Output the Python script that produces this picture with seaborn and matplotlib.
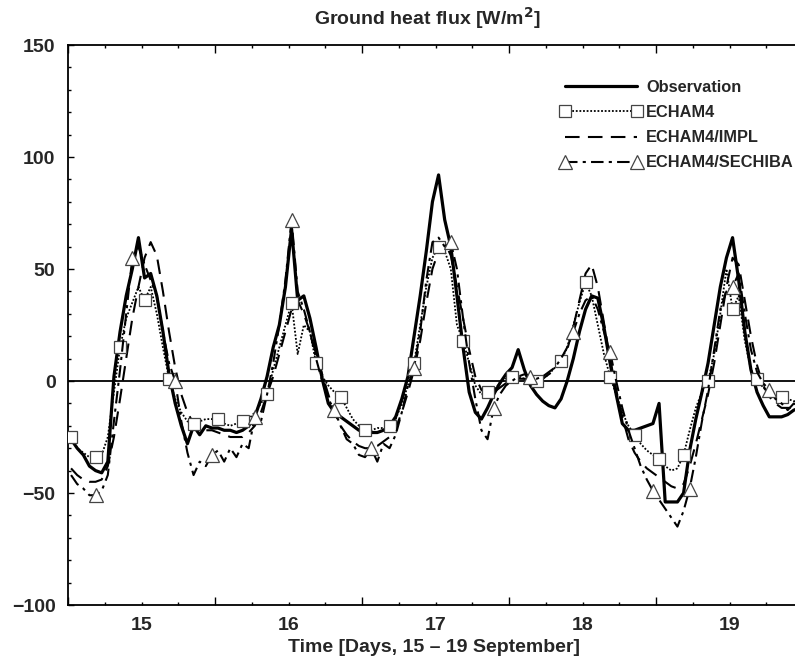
import numpy as np
import pandas as pd
import matplotlib
matplotlib.use("Agg")
import matplotlib.pyplot as plt
from matplotlib.lines import Line2D
from matplotlib.ticker import MultipleLocator
import seaborn as sns

# Hourly samples, 14.5 - 19.5 September (day of month, centred on the half hour)
hours = np.arange(120)
time_days = 14.5 + (hours + 0.5) / 24.0

observation = [
    -26, -30, -33, -38, -40, -41, -36, 2, 22, 38, 50, 64, 46, 48, 38, 22, 3, -10, -20, -28, -20, -24, -20, -21,
    -21, -22, -22, -23, -22, -20, -16, -8, 2, 15, 25, 42, 68, 36, 38, 28, 15, 1, -10, -14, -16, -18, -20, -22,
    -22, -23, -23, -22, -20, -16, -8, 2, 20, 38, 58, 80, 92, 72, 60, 38, 15, -5, -14, -17, -12, -6, -1, 3,
    6, 14, 5, -2, -6, -9, -11, -12, -8, 0, 10, 22, 32, 38, 37, 24, 8, -6, -19, -22, -22, -21, -20, -19,
    -10, -54, -54, -54, -50, -31, -17, -5, 8, 25, 42, 55, 64, 45, 22, 5, -5, -11, -16, -16, -16, -15, -13, -12,
]
echam4 = [
    -25, -30, -32, -34, -34, -33, -25, -5, 15, 28, 35, 42, 36, 42, 30, 15, 1, -8, -14, -18, -19, -18, -17, -17,
    -17, -19, -20, -19, -18, -17, -14, -10, -6, 5, 15, 25, 35, 12, 25, 22, 8, 2, -2, -5, -7, -12, -17, -20,
    -22, -22, -21, -21, -20, -17, -10, -2, 8, 25, 42, 55, 60, 58, 50, 25, 18, 8, -2, -6, -5, -4, -1, 1,
    2, 2, 1, 0, 0, 1, 3, 6, 9, 15, 25, 35, 44, 38, 25, 12, 2, -6, -14, -20, -24, -28, -31, -33,
    -35, -38, -40, -39, -33, -22, -12, -5, 0, 12, 30, 50, 32, 38, 18, 5, 1, -3, -5, -6, -7, -8, -9, -9,
]
echam4_impl = [
    -39, -42, -44, -45, -45, -44, -38, -25, -8, 10, 28, 42, 55, 62, 56, 40, 22, 6, -6, -14, -19, -21, -22, -22,
    -23, -24, -25, -25, -25, -23, -20, -14, -6, 2, 12, 22, 32, 36, 30, 22, 12, 3, -6, -14, -20, -24, -27, -29,
    -30, -30, -29, -27, -25, -21, -14, -5, 5, 18, 35, 50, 58, 62, 56, 42, 28, 14, 2, -4, -6, -5, -3, -1,
    0, 1, 1, 0, 0, 1, 3, 5, 8, 14, 24, 36, 48, 52, 42, 26, 10, -4, -16, -26, -32, -36, -39, -41,
    -43, -45, -47, -48, -46, -38, -28, -17, -6, 8, 25, 42, 55, 52, 36, 20, 7, -2, -7, -10, -12, -12, -12, -11,
]
echam4_sechiba = [
    -42, -46, -48, -51, -51, -49, -42, -18, 5, 30, 55, 60, 52, 45, 38, 22, 8, 0, -18, -32, -42, -36, -38, -33,
    -31, -36, -30, -34, -28, -30, -16, -18, -6, 8, 25, 45, 72, 40, 32, 22, 10, 0, -8, -13, -20, -26, -28, -33,
    -34, -30, -36, -28, -30, -24, -14, -2, 6, 22, 45, 62, 64, 60, 62, 50, 28, 8, -8, -22, -26, -12, -6, -2,
    0, 2, 3, 2, 1, 2, 4, 6, 10, 15, 22, 30, 36, 38, 32, 22, 13, 0, -12, -22, -30, -38, -44, -49,
    -53, -57, -61, -65, -58, -48, -34, -18, -4, 14, 32, 40, 42, 48, 30, 14, 4, -1, -4, -8, -10, -13, -10, -12,
]

series_names = ["Observation", "ECHAM4", "ECHAM4/IMPL", "ECHAM4/SECHIBA"]
day_ticks = [15, 16, 17, 18, 19]

df = pd.DataFrame({
    "time": time_days,
    "Observation": observation,
    "ECHAM4": echam4,
    "ECHAM4/IMPL": echam4_impl,
    "ECHAM4/SECHIBA": echam4_sechiba,
})

sns.set_theme(style="ticks")
plt.rcParams["font.family"] = ["Liberation Sans", "DejaVu Sans"]
plt.rcParams["font.weight"] = "bold"

fig = plt.figure(figsize=(7.95, 6.62), dpi=100)
ax = fig.add_axes([68 / 795, 1 - 605 / 662, (800 - 68) / 795, 560 / 662])

# square markers every 4 h, triangle markers every 6.5 h
square_every = (0, 4)
tri_every = [int(round(3.6 + 6.52 * i)) for i in range(19) if round(3.6 + 6.52 * i) < len(hours)]

styles = {
    "Observation": dict(color="black", lw=2.3, ls="-", zorder=3),
    "ECHAM4/IMPL": dict(color="black", lw=1.5, ls=(0, (7, 4)), zorder=3),
    "ECHAM4": dict(color="black", lw=1.3, ls=(0, (1, 1)), zorder=4,
                   marker="s", markersize=9, markevery=square_every,
                   markerfacecolor="white", markeredgecolor="#444444", markeredgewidth=0.9),
    "ECHAM4/SECHIBA": dict(color="black", lw=1.5, ls=(0, (6, 2.5, 1.5, 2.5)), zorder=4,
                           marker="^", markersize=10, markevery=tri_every,
                           markerfacecolor="white", markeredgecolor="#444444", markeredgewidth=0.9),
}

for name in ["Observation", "ECHAM4/IMPL", "ECHAM4", "ECHAM4/SECHIBA"]:
    sns.lineplot(data=df, x="time", y=name, ax=ax, legend=False, **styles[name])

ax.axhline(0, color="black", lw=1.3, zorder=2)

ax.set_xlim(14.5, 14.5 + 732 / 147)
ax.set_ylim(-100, 150)

ax.set_xticks(day_ticks)
ax.set_xticklabels([str(d) for d in day_ticks])
ax.xaxis.set_minor_locator(MultipleLocator(0.25))
ax.yaxis.set_major_locator(MultipleLocator(50))
ax.yaxis.set_minor_locator(MultipleLocator(10))
ax.tick_params(which="both", direction="in", top=True, right=False, width=1.0, color="black")
ax.tick_params(which="major", axis="x", length=2.5, pad=9, labelsize=14)
ax.tick_params(which="minor", axis="x", length=2.5)
ax.tick_params(which="major", axis="y", length=4, pad=9, labelsize=14)
ax.tick_params(which="minor", axis="y", length=2.5)
for lab in ax.get_xticklabels() + ax.get_yticklabels():
    lab.set_fontweight("bold")

# longer ticks at midday
fig.canvas.draw()
for tk in ax.xaxis.get_minor_ticks():
    loc = tk.get_loc()
    if loc is not None and abs((loc % 1) - 0.5) < 1e-6:
        tk.tick1line.set_markersize(5.5)
        tk.tick2line.set_markersize(5.5)

for sp in ax.spines.values():
    sp.set_linewidth(1.3)
    sp.set_color("black")

ax.set_xlabel("Time [Days, 15 \u2013 19 September]", fontsize=14, fontweight="bold", labelpad=3)
ax.set_ylabel("")
fig.text(0.537, 1 - 18 / 662, "Ground heat flux [W/m$^\\mathbf{2}$]", ha="center", va="center",
         fontsize=14, fontweight="bold")

handles = [
    Line2D([], [], color="black", lw=2.3, ls="-"),
    Line2D([], [], color="black", lw=1.3, ls=(0, (1, 1)), marker="s", markersize=9,
           markerfacecolor="white", markeredgecolor="#444444", markeredgewidth=0.9),
    Line2D([], [], color="black", lw=1.5, ls=(0, (7, 4))),
    Line2D([], [], color="black", lw=1.5, ls=(0, (6, 2.5, 1.5, 2.5)), marker="^", markersize=10,
           markerfacecolor="white", markeredgecolor="#444444", markeredgewidth=0.9),
]
leg = ax.legend(handles, series_names, loc="upper left", bbox_to_anchor=((560 - 68) / 732, (605 - 80) / 560),
                frameon=False, numpoints=2, handlelength=5.0, handletextpad=0.25, labelspacing=0.62,
                borderpad=0, borderaxespad=0, prop=dict(size=11.8, weight="bold"))

fig.savefig("out.png", dpi=100, facecolor="white")
